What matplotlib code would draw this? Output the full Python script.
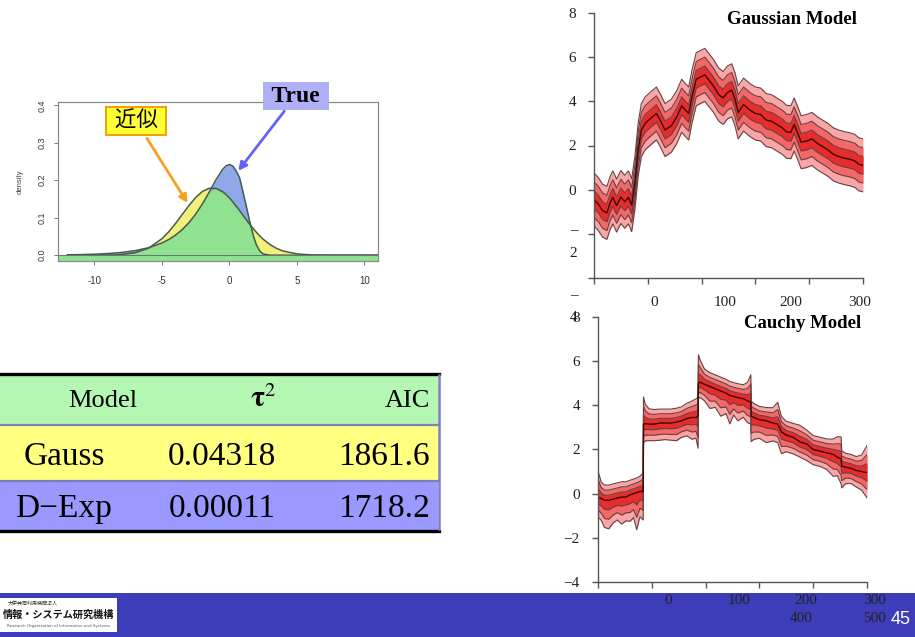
import numpy as np
import matplotlib
matplotlib.use('Agg')
import matplotlib.pyplot as plt
from matplotlib.patches import Rectangle

plt.rcParams['font.family'] = ['Liberation Serif', 'Noto Sans CJK JP', 'DejaVu Sans']
plt.rcParams['mathtext.fontset'] = 'stix'

W, H = 915, 637

# noise densities: true one and its gaussian approximation
dens_x = [-12, -11, -10, -9, -8, -7, -6, -5, -4.5, -4, -3.5, -3, -2.5, -2, -1.5,
          -1, -0.5, -0.25, 0, 0.25, 0.5, 0.75, 1, 1.25, 1.5, 1.75, 2, 2.25, 2.5,
          3, 3.5, 4, 5, 6, 7, 8, 11]
dens_true = [0.0010, 0.0016, 0.0027, 0.0044, 0.0073, 0.0121, 0.0198, 0.0326,
             0.0418, 0.0535, 0.0683, 0.0868, 0.1097, 0.1371, 0.1685, 0.2013,
             0.2294, 0.2385, 0.2420, 0.2379, 0.2246, 0.2065, 0.1689, 0.1302,
             0.0898, 0.0539, 0.0270, 0.0107, 0.0032, 0.0001, 0, 0, 0, 0, 0, 0, 0]
dens_approx = [0.0, 0.0, 0.0001, 0.0004, 0.0018, 0.0065, 0.0186, 0.0439,
               0.0624, 0.0844, 0.1085, 0.1326, 0.1541, 0.1702, 0.1786, 0.1783,
               0.1691, 0.1616, 0.1525, 0.1421, 0.1308, 0.1188, 0.1066, 0.0944,
               0.0826, 0.0713, 0.0608, 0.0512, 0.0425, 0.0283, 0.0179, 0.0108,
               0.0034, 0.0009, 0.0002, 0.0, 0.0]

# model comparison table
models = ['Gauss', 'D\u2212Exp']
tau2 = ['0.04318', '0.00011']
aic = ['1861.6', '1718.2']

# smoothed trend, gaussian system noise (mean and one sd)
gauss_t = [0, 8, 16, 24, 30, 35, 42, 50, 57, 64, 70, 76, 82, 88, 95, 104, 116,
           124, 132, 144, 154, 163, 170, 176, 182, 190, 198, 206, 214, 222, 232,
           240, 248, 256, 262, 268, 278, 290, 300, 310, 320, 330, 340, 350, 358,
           366, 372, 378, 385, 395, 405, 415, 425, 435, 445, 455, 465, 475, 485,
           492, 500]
gauss_mid = [-0.45, -0.65, -0.95, -1.05, -0.6, -0.35, -0.72, -0.33, -0.55, -0.35,
             -0.7, 0.3, 1.8, 2.7, 3.0, 3.2, 3.45, 3.1, 2.7, 2.9, 3.3, 3.8, 3.6,
             3.45, 4.2, 5.0, 5.1, 5.2, 4.95, 4.7, 4.3, 4.15, 4.4, 4.5, 4.1, 3.5,
             3.85, 3.6, 3.45, 3.4, 3.15, 3.1, 2.95, 2.8, 2.62, 2.6, 2.95, 2.6,
             2.15, 2.2, 2.3, 2.1, 1.95, 1.8, 1.6, 1.5, 1.43, 1.38, 1.3, 1.15, 1.1]
gauss_sd = 0.4

# smoothed trend, cauchy system noise (mean, upper and lower sd)
cauchy_t = [0, 6, 12, 20, 28, 36, 44, 52, 60, 66, 72, 78, 84, 84.6, 88, 95, 105,
            115, 125, 135, 146, 155, 165, 175, 182, 186, 186.6, 190, 198, 208,
            218, 228, 238, 245, 252, 260, 270, 278, 284, 284.6, 290, 300, 313,
            325, 334, 341, 350, 363, 375, 388, 400, 412, 425, 437, 445, 452, 453,
            460, 470, 480, 490, 500]
cauchy_mid = [-0.15, -0.22, -0.3, -0.3, -0.25, -0.2, -0.15, -0.15, -0.05, 0.0,
              0.05, 0.1, 0.1, 3.15, 3.17, 3.15, 3.15, 3.2, 3.2, 3.2, 3.24, 3.3,
              3.4, 3.45, 3.45, 3.5, 5.0, 5.05, 4.95, 4.85, 4.75, 4.65, 4.55, 4.45,
              4.4, 4.35, 4.3, 4.2, 4.15, 3.5, 3.45, 3.35, 3.3, 3.2, 3.15, 2.8,
              2.65, 2.55, 2.35, 2.25, 2.0, 1.93, 1.85, 1.78, 1.65, 1.58, 1.25,
              1.2, 1.15, 1.05, 1.0, 0.95]
cauchy_sd_hi = [0.39, 0.25, 0.23, 0.23, 0.23, 0.23, 0.23, 0.23, 0.22, 0.22,
                0.22, 0.23, 0.28, 0.41, 0.29, 0.23, 0.22, 0.21, 0.21, 0.21,
                0.21, 0.21, 0.23, 0.25, 0.28, 0.29, 0.43, 0.33, 0.23, 0.21,
                0.21, 0.21, 0.21, 0.21, 0.21, 0.21, 0.21, 0.28, 0.41, 0.23,
                0.21, 0.2, 0.2, 0.23, 0.33, 0.23, 0.21, 0.21, 0.25, 0.21,
                0.21, 0.21, 0.21, 0.23, 0.31, 0.33, 0.23, 0.21, 0.21, 0.21,
                0.25, 0.41]
cauchy_sd_lo = [0.3, 0.33, 0.41, 0.43, 0.36, 0.33, 0.41, 0.36, 0.4, 0.36,
                0.56, 0.38, 0.43, 0.28, 0.26, 0.25, 0.25, 0.26, 0.25, 0.26,
                0.28, 0.25, 0.26, 0.33, 0.31, 0.48, 0.23, 0.23, 0.25, 0.33,
                0.28, 0.38, 0.31, 0.43, 0.28, 0.35, 0.28, 0.33, 0.33, 0.38,
                0.33, 0.28, 0.33, 0.27, 0.28, 0.33, 0.25, 0.25, 0.23, 0.25,
                0.23, 0.23, 0.25, 0.33, 0.28, 0.38, 0.33, 0.25, 0.23, 0.25,
                0.28, 0.38]


def frac(x, y):
    """pixel position (origin top-left) -> figure fraction"""
    return x / W, 1 - y / H


def axes_box(left, top, right, bottom):
    return [left / W, 1 - bottom / H, (right - left) / W, (bottom - top) / H]


fig = plt.figure(figsize=(W / 100, H / 100), dpi=100)

# background layer: table, footer bar, logo
bg = fig.add_axes([0, 0, 1, 1], zorder=0)
bg.set_xlim(0, W)
bg.set_ylim(H, 0)
bg.axis('off')

bg.add_patch(Rectangle((-5, 374), 443, 50, color='#b3f7b3', lw=0))
bg.add_patch(Rectangle((-5, 425), 443, 55, color='#ffff80', lw=0))
bg.add_patch(Rectangle((-5, 481), 443, 49, color='#9999ff', lw=0))
bg.plot([0, 439], [373.5, 373.5], color='black', lw=2.4)
bg.plot([0, 439], [530.5, 530.5], color='black', lw=2.4)
bg.plot([0, 438], [424.5, 424.5], color='#7e7ebe', lw=1.6)
bg.plot([0, 438], [480.5, 480.5], color='#7e7ebe', lw=1.6)
bg.plot([438.5, 438.5], [375, 529], color='#7e7ebe', lw=1.8)

head_y, row_y = 407, [465, 517]
bg.text(103, head_y, 'Model', fontsize=19, ha='center', va='baseline')
bg.text(263, head_y, r'$\mathbf{\tau}^2$', fontsize=21, ha='center', va='baseline')
bg.text(430, head_y, 'AIC', fontsize=19, ha='right', va='baseline')
for yb, m, tv, a in zip(row_y, models, tau2, aic):
    bg.text(64, yb, m, fontsize=24, ha='center', va='baseline')
    bg.text(222, yb, tv, fontsize=24, ha='center', va='baseline')
    bg.text(430, yb, a, fontsize=24, ha='right', va='baseline')

bg.add_patch(Rectangle((0, 593), W, 44, color='#3d3db9', lw=0))
bg.add_patch(Rectangle((-2, 598), 119, 34, color='white', lw=0))
bg.text(58, 604, '大学共同利用機関法人', fontsize=3.6, ha='right', va='center',
        family='Noto Sans CJK JP', color='#333333')
bg.text(114, 615, '情報・システム研究機構', fontsize=7.3, ha='right', va='center',
        family='Noto Sans CJK JP', weight='bold', color='#111111')
bg.text(110, 626, 'Research Organization of Information and Systems', fontsize=2.9,
        ha='right', va='center', family='DejaVu Sans', color='#555555')

# density plot
ax = fig.add_axes(axes_box(58, 102, 378, 261), zorder=1)
x = np.array(dens_x)
tr = np.array(dens_true)
ap = np.array(dens_approx)
ax.axhspan(-0.02, 0, color='#90e290', lw=0)
ax.fill_between(x, 0, ap, color='#f0f07a', lw=0)
ax.fill_between(x, 0, tr, color='#8ea8ea', lw=0)
ax.fill_between(x, 0, np.minimum(tr, ap), color='#90e290', lw=0)
ax.plot(x, tr, color='#4a5a4a', lw=1.1)
ax.plot(x, ap, color='#4a5a4a', lw=1.1)
ax.axhline(0, color='#6a7a6a', lw=0.8)
ax.set_xlim(-12.7, 11.0)
ax.set_ylim(-0.0155, 0.4088)
ax.set_xticks([-10, -5, 0, 5, 10])
ax.set_yticks([0.0, 0.1, 0.2, 0.3, 0.4])
ax.set_xticklabels(['-10', '-5', '0', '5', '10'], family='Liberation Sans',
                   fontsize=7, color='#333333')
ax.set_yticklabels(['0.0', '0.1', '0.2', '0.3', '0.4'], family='Liberation Sans',
                   fontsize=6.5, color='#333333', rotation=90, va='center')
ax.tick_params(length=3, width=0.7, color='#777777', pad=5)
ax.tick_params(axis='x', pad=8)
for s in ax.spines.values():
    s.set_color('#8a8a8a')
    s.set_linewidth(0.9)
ax.set_ylabel('density', family='Liberation Sans', fontsize=5.5, color='#444444',
              labelpad=10)

ax.annotate(' True ', xy=(0.65, 0.225), xycoords='data',
            xytext=frac(296, 96), textcoords='figure fraction',
            fontsize=17, weight='bold', ha='center', va='center',
            bbox=dict(boxstyle='square,pad=0.15', fc='#b0b0f8', ec='none'),
            arrowprops=dict(arrowstyle='-|>', color='#6464f4', lw=2,
                            mutation_scale=12, shrinkA=1, shrinkB=0))
ax.annotate(' 近似 ', xy=(-3.1, 0.139), xycoords='data',
            xytext=frac(136, 121), textcoords='figure fraction',
            fontsize=15.5, ha='center', va='center', family='Noto Sans CJK JP',
            bbox=dict(boxstyle='square,pad=0.15', fc='#ffff33', ec='#f0a000', lw=1.4),
            arrowprops=dict(arrowstyle='-|>', color='#f7a020', lw=2,
                            mutation_scale=12, shrinkA=2, shrinkB=0))


def draw_bands(ax, t, mid, sd_hi, sd_lo):
    t = np.asarray(t)
    mid = np.asarray(mid)
    hi = np.asarray(sd_hi)
    lo = np.asarray(sd_lo)
    for k, c in [(3, '#f8a6a6'), (2, '#f26868'), (1, '#e62c2c')]:
        ax.fill_between(t, mid - k * lo, mid + k * hi, color=c, lw=0)
    for k in (3, 2, 1):
        ax.plot(t, mid + k * hi, color='#6a4040', lw=0.8)
        ax.plot(t, mid - k * lo, color='#6a4040', lw=0.8)
    ax.plot(t, mid, color='#3a0808', lw=1.0)


def style_panel(ax, ylabels):
    ax.set_xlim(0, 500)
    ax.set_ylim(-4, 8)
    ax.set_xticks(range(0, 501, 100))
    ax.set_xticklabels([])
    ax.set_yticks(range(-4, 9, 2))
    ax.set_yticklabels(ylabels, fontsize=11, color='#222222')
    ax.tick_params(length=4, width=1, color='#555555', pad=9)
    for side in ('top', 'right'):
        ax.spines[side].set_visible(False)
    for side in ('left', 'bottom'):
        ax.spines[side].set_color('#555555')
        ax.spines[side].set_linewidth(1.0)


top = fig.add_axes(axes_box(594, 13, 863, 278), zorder=1)
draw_bands(top, gauss_t, gauss_mid, gauss_sd, gauss_sd)
style_panel(top, ['', '', '0', '2', '4', '6', '8'])

bot = fig.add_axes(axes_box(598, 317, 867, 582), zorder=1)
draw_bands(bot, cauchy_t, cauchy_mid, cauchy_sd_hi, cauchy_sd_lo)
style_panel(bot, ['\u22124', '\u22122', '0', '2', '4', '6', '8'])

fig.text(*frac(792, 20), 'Gaussian Model', fontsize=13.5, weight='bold',
         ha='center', va='center')
fig.text(*frac(803, 324), 'Cauchy Model', fontsize=13.5, weight='bold',
         ha='center', va='center')

# axis labels that broke across lines in the slide export
for (lx, ly, s) in [(573.5, 231, '\u2013'), (573, 253, '2'), (573.5, 296, '\u2013'),
                    (574, 318, '4'), (654, 302, '0'), (725, 302, '100'),
                    (791, 302, '200'), (860, 302, '300'), (668, 600, '0'),
                    (739, 600, '100'), (806, 600, '200'), (875, 600, '300'),
                    (801, 619, '400'), (875, 619, '500')]:
    fig.text(*frac(lx, ly), s, fontsize=11, ha='center', va='center', color='#222222')

fig.text(*frac(901, 619), '45', fontsize=13, ha='center', va='center',
         color='white', family='Liberation Sans')

fig.savefig('out.png', dpi=100)
